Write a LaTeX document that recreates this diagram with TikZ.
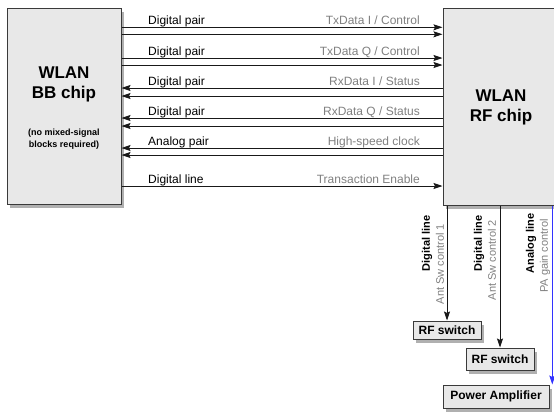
\documentclass[tikz,border=0pt]{standalone}
\usepackage{fontspec}
\setmainfont{Liberation Sans}
\usetikzlibrary{arrows.meta,shadows}
\definecolor{boxfill}{HTML}{E8E8E8}
\definecolor{shadowc}{HTML}{B0B0B0}
\definecolor{edgec}{HTML}{3A3A3A}
\definecolor{labgray}{HTML}{808080}
\definecolor{pablue}{HTML}{3333FF}
\begin{document}
\begin{tikzpicture}[x=1pt,y=-1pt,
  chip/.style={draw=edgec, line width=1pt, fill=boxfill, inner sep=0pt,
    drop shadow={shadow xshift=3pt, shadow yshift=-4pt, opacity=1, fill=shadowc}},
  small/.style={draw=edgec, line width=1pt, fill=boxfill, inner sep=0pt,
    font=\fontsize{12}{14}\selectfont\bfseries,
    drop shadow={shadow xshift=3pt, shadow yshift=-4pt, opacity=1, fill=shadowc}},
  title/.style={font=\fontsize{17}{20}\selectfont\bfseries, align=center, inner sep=0pt},
  note/.style={font=\fontsize{9}{12}\selectfont\bfseries, align=center, inner sep=0pt},
  lab/.style={font=\fontsize{12}{14}\selectfont, inner sep=0pt},
  glab/.style={lab, text=labgray},
  vlab/.style={font=\fontsize{11}{13}\selectfont\bfseries, inner sep=0pt, rotate=90},
  vglab/.style={font=\fontsize{11}{13}\selectfont, text=labgray, inner sep=0pt, rotate=90},
  wire/.style={line width=0.9pt, draw=black!90},
  tip/.style={-{Stealth[length=9pt,width=6pt,inset=1.5pt]}},
  ]
\useasboundingbox (0,0) rectangle (554,413);
\clip (0,0) rectangle (554,413);

% chips
\node[chip, minimum width=114pt, minimum height=196pt] (bb) at (64,106) {};
\node[chip, minimum width=118pt, minimum height=197pt] (rf) at (502,106.5) {};
\node[title] (bbt) at (64,84) {WLAN\\BB chip};
\node[note] (bbn) at (64,139) {(no mixed-signal\\blocks required)};
\node[title] (rft) at (501,107) {WLAN\\RF chip};

% interface lines
\draw[wire,tip] (bb.east |- 0,27.3) -- (rf.west |- 0,27.3);
\draw[wire,tip] (bb.east |- 0,34.3) -- (rf.west |- 0,34.3);
\draw[wire,tip] (bb.east |- 0,58) -- (rf.west |- 0,58);
\draw[wire,tip] (bb.east |- 0,65) -- (rf.west |- 0,65);
\draw[wire,tip] (rf.west |- 0,88) -- (bb.east |- 0,88);
\draw[wire,tip] (rf.west |- 0,96) -- (bb.east |- 0,96);
\draw[wire,tip] (rf.west |- 0,118) -- (bb.east |- 0,118);
\draw[wire,tip] (rf.west |- 0,126) -- (bb.east |- 0,126);
\draw[wire,tip] (rf.west |- 0,148) -- (bb.east |- 0,148);
\draw[wire,tip] (rf.west |- 0,155) -- (bb.east |- 0,155);
\draw[wire,tip] (bb.east |- 0,186) -- (rf.west |- 0,186);

% interface labels
\node[lab, anchor=base west] (l1) at (148,24.8) {Digital pair};
\node[lab, anchor=base west] (l2) at (148,55.5) {Digital pair};
\node[lab, anchor=base west] (l3) at (148,85.5) {Digital pair};
\node[lab, anchor=base west] (l4) at (148,115.5) {Digital pair};
\node[lab, anchor=base west] (l5) at (148,145.5) {Analog pair};
\node[lab, anchor=base west] (l6) at (148,183.5) {Digital line};
\node[glab, anchor=base east] (r1) at (420,24.8) {TxData I / Control};
\node[glab, anchor=base east] (r2) at (420,55.5) {TxData Q / Control};
\node[glab, anchor=base east] (r3) at (420,85.5) {RxData I / Status};
\node[glab, anchor=base east] (r4) at (420,115.5) {RxData Q / Status};
\node[glab, anchor=base east] (r5) at (420,145.5) {High-speed clock};
\node[glab, anchor=base east] (r6) at (420,183.5) {Transaction Enable};

% peripheral blocks
\node[small, minimum width=68pt, minimum height=18pt] (sw1) at (447,330) {RF switch};
\node[small, minimum width=68pt, minimum height=22pt] (sw2) at (500,359) {RF switch};
\node[small, minimum width=106pt, minimum height=23pt] (pa) at (496,396.5) {Power Amplifier};

\draw[wire,tip] (rf.south -| sw1.north) -- (sw1.north);
\draw[wire,tip] (rf.south -| sw2.north) -- (sw2.north);
\draw[line width=1.1pt, draw=pablue, -{Stealth[length=9pt,width=6pt,inset=1.5pt,fill=pablue]}]
  (rf.south -| 552.3,0) -- (pa.north -| 552.3,0);

% vertical labels
\node[vlab] (v1a) at (427,243.5) {Digital line};
\node[vglab] (v1b) at (440,264) {Ant Sw control 1};
\node[vlab] (v2a) at (479,243.5) {Digital line};
\node[vglab] (v2b) at (492,260) {Ant Sw control 2};
\node[vlab] (v3a) at (531,243.5) {Analog line};
\node[vglab] (v3b) at (545,256) {PA gain control};
\end{tikzpicture}
\end{document}
